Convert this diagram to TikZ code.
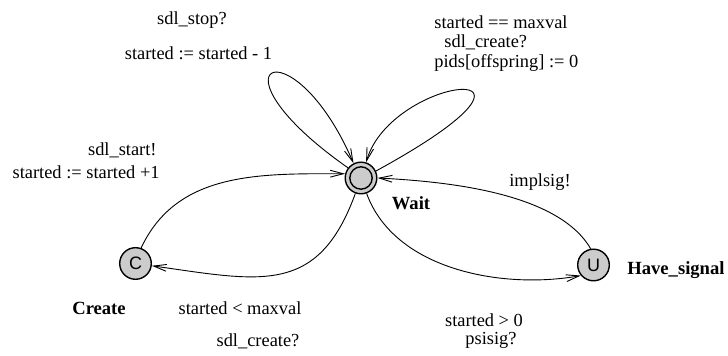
\documentclass[tikz,border=0pt]{standalone}
\usepackage{fontspec}
\setmainfont{Liberation Serif}
\setsansfont{Liberation Sans}
\usetikzlibrary{arrows.meta}
\definecolor{locgray}{RGB}{204,204,204}

\begin{document}
\begin{tikzpicture}[x=0.5pt, y=0.5pt,
    font=\fontsize{9.2}{11}\selectfont,
    every node/.append style={inner sep=0pt},
    loc/.style={circle, draw, line width=0.7pt, fill=locgray, minimum size=15.8pt,
      font=\fontsize{9}{11}\selectfont\sffamily},
    locname/.style={font=\fontsize{9.3}{11}\selectfont\bfseries},
    edge/.style={line width=0.45pt, -{Straight Barb[length=6.5pt,width=3.4pt]}}]
    \useasboundingbox (0,0) rectangle (728,356);

    % Locations
    \node[loc] (wait) at (361,178) {};
    \draw[line width=0.7pt] (wait.center) circle (5.6pt);
    \node[loc] (create) at (135.5,92.5) {C};
    \node[loc] (have) at (593.5,91) {U};
    \node[locname] (waitname) at (411,153) {Wait};
    \node[locname] (createname) at (99,48) {Create};
    \node[locname, anchor=west] (havename) at (627,86) {Have\_signal};

    % Edges
    \draw[edge] (create.70) to[out=65, in=180] (wait.165);
    \draw[edge] (wait.-110) to[out=-110, in=-8, looseness=1.3] (create.-8);
    \draw[edge] (wait.-70) to[out=-70, in=190, looseness=0.9] (have.220);
    \draw[edge] (have.100) to[out=120, in=-3, looseness=0.75] (wait.0);
    \draw[edge] (wait.142) .. controls (200,292) and (292,335) .. (wait.117);
    \draw[edge] (wait.25) .. controls (590,302) and (392,282) .. (wait.72);

    % Left loop labels
    \node (stopsync) at (192,336) {sdl\_stop?};
    \node (stopupd) at (198.5,303) {started := started - 1};
    % Right loop labels
    \node[anchor=west] (maxguard) at (434,334) {started == maxval};
    \node[anchor=west] (maxsync) at (444,314) {sdl\_create?};
    \node[anchor=west] (maxupd) at (434,293) {pids[offspring] := 0};
    % Create to Wait
    \node[anchor=east] (startsync) at (157,206) {sdl\_start!};
    \node[anchor=east] (startupd) at (160,184) {started := started +1};
    % Wait to Create
    \node (lessguard) at (240,48) {started < maxval};
    \node (lesssync) at (258,15) {sdl\_create?};
    % Wait to Have_signal
    \node (posguard) at (484,36) {started > 0};
    \node (possync) at (491,16) {psisig?};
    % Have_signal to Wait
    \node (implsync) at (540,174) {implsig!};
\end{tikzpicture}
\end{document}
